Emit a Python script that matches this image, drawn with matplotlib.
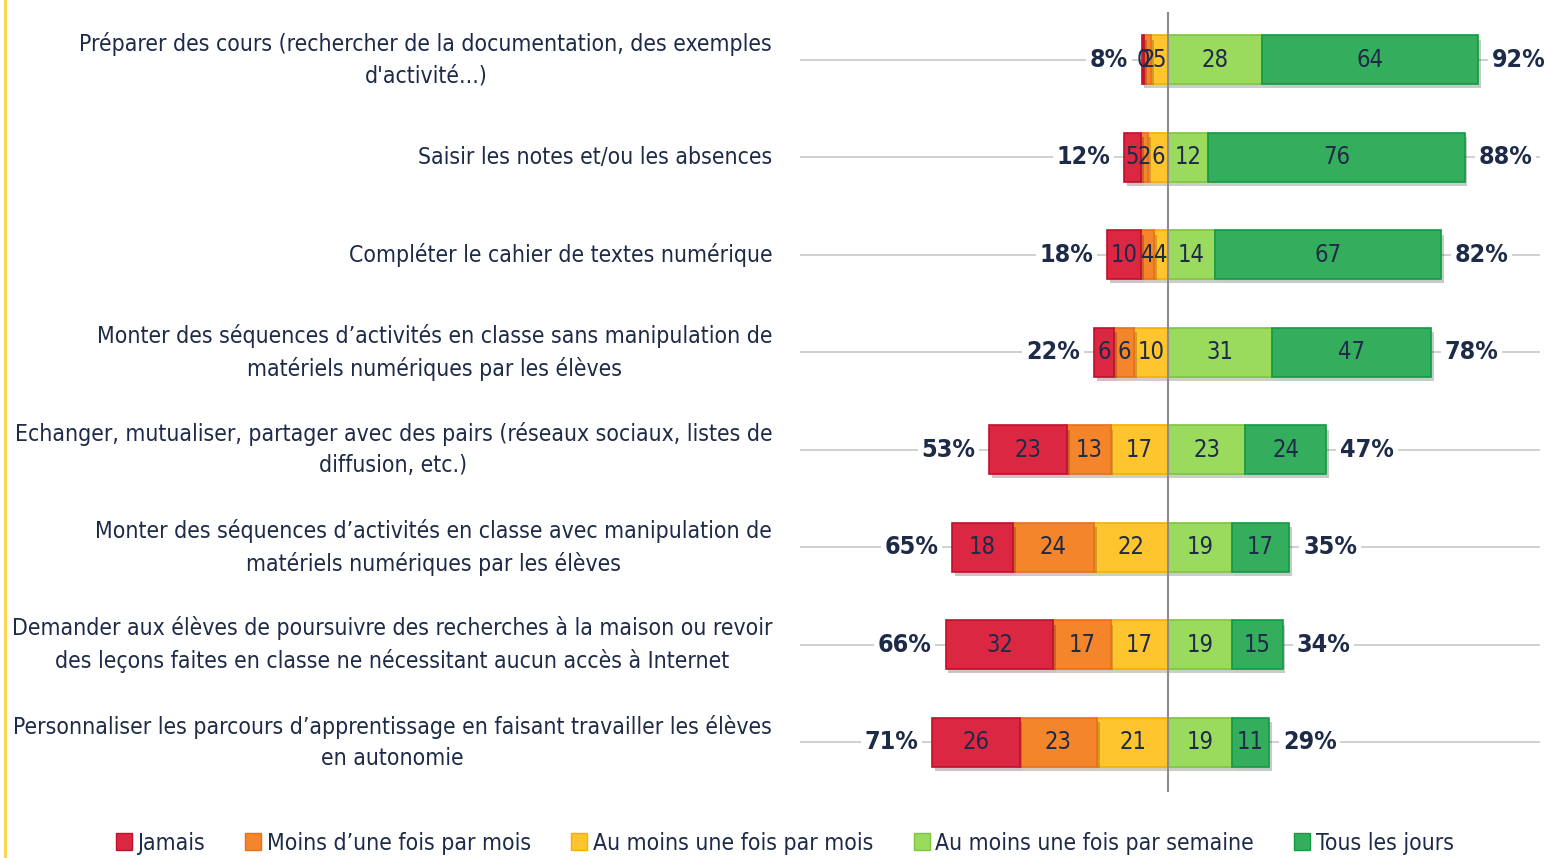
import numpy as np
import matplotlib.pyplot as plt
from matplotlib import font_manager as fm
from matplotlib.patches import Patch
from matplotlib.lines import Line2D
import matplotlib.patheffects as pe

categories = [
    "Préparer des cours (rechercher de la documentation, des exemples\nd'activité...)",
    "Saisir les notes et/ou les absences",
    "Compléter le cahier de textes numérique",
    "Monter des séquences d’activités en classe sans manipulation de\nmatériels numériques par les élèves",
    "Echanger, mutualiser, partager avec des pairs (réseaux sociaux, listes de\ndiffusion, etc.)",
    "Monter des séquences d’activités en classe avec manipulation de\nmatériels numériques par les élèves",
    "Demander aux élèves de poursuivre des recherches à la maison ou revoir\ndes leçons faites en classe ne nécessitant aucun accès à Internet",
    "Personnaliser les parcours d’apprentissage en faisant travailler les élèves\nen autonomie",
]
jamais = [0.8, 5, 10, 6, 23, 18, 32, 26]
moins_mois = [2, 2, 4, 6, 13, 24, 17, 23]
mois = [5, 6, 4, 10, 17, 22, 17, 21]
semaine = [28, 12, 14, 31, 23, 19, 19, 19]
jours = [64, 76, 67, 47, 24, 17, 15, 11]
neg_total = [8, 12, 18, 22, 53, 65, 66, 71]
pos_total = [92, 88, 82, 78, 47, 35, 34, 29]

series_names = ["Jamais", "Moins d’une fois par mois", "Au moins une fois par mois",
                "Au moins une fois par semaine", "Tous les jours"]
colors = ["#DC2743", "#F5852B", "#FFC52E", "#9ADB5E", "#34AE5C"]
edges = ["#C0102C", "#E8701A", "#F5B000", "#7CC63E", "#129A44"]
txt = "#1E2B48"

# pick a narrow font if one is installed, else plain Liberation Sans smaller
fonts = fm.fontManager.ttflist
names = {f.name for f in fonts}
stretch = 'normal'
if 'Liberation Sans Narrow' in names:
    family, fs_lab, fs_pct, fs_val = 'Liberation Sans Narrow', 18.5, 21, 19
elif any(f.name == 'DejaVu Sans' and f.stretch == 'condensed' for f in fonts):
    family, fs_lab, fs_pct, fs_val = 'DejaVu Sans', 16.5, 18, 17
    stretch = 'condensed'
else:
    family, fs_lab, fs_pct, fs_val = 'Liberation Sans', 16, 19, 16
plt.rcParams['font.family'] = [family, 'DejaVu Sans']
plt.rcParams['font.stretch'] = stretch

fig = plt.figure(figsize=(15.48, 8.58), dpi=100)
ax = fig.add_axes([800 / 1548, 1 - 792 / 858, 740 / 1548, 780 / 858])

y = np.arange(len(categories))
h = 0.5
shadow = [pe.SimplePatchShadow(offset=(2, -3), alpha=0.25), pe.Normal()]

neg = [np.array(jamais), np.array(moins_mois), np.array(mois)]
# left side: yellow next to centre, then orange, then red
left_start = np.zeros(len(y))
for k in [2, 1, 0]:
    vals = neg[k]
    bars = ax.barh(y, -vals, left=-left_start, height=h, color=colors[k],
                   edgecolor=edges[k], linewidth=1.2, zorder=3)
    for b in bars:
        b.set_path_effects(shadow)
    for yi, v, s in zip(y, vals, left_start):
        ax.text(-s - v / 2, yi, f"{int(v)}", ha='center', va='center',
                fontsize=fs_val, color=txt, zorder=5)
    left_start = left_start + vals

pos = [np.array(semaine), np.array(jours)]
right_start = np.zeros(len(y))
for k, vals in zip([3, 4], pos):
    bars = ax.barh(y, vals, left=right_start, height=h, color=colors[k],
                   edgecolor=edges[k], linewidth=1.2, zorder=3)
    for b in bars:
        b.set_path_effects(shadow)
    for yi, v, s in zip(y, vals, right_start):
        ax.text(s + v / 2, yi, f"{int(v)}", ha='center', va='center',
                fontsize=fs_val, color=txt, zorder=5)
    right_start = right_start + vals

for yi, l, r, nt, pt in zip(y, left_start, right_start, neg_total, pos_total):
    ax.annotate(f"{nt}%", (-l, yi), xytext=(-10, 0), textcoords='offset points',
                ha='right', va='center', fontsize=fs_pct, fontweight='bold', color=txt,
                bbox=dict(boxstyle='square,pad=0.15', fc='white', ec='none'),
                zorder=4, annotation_clip=False)
    ax.annotate(f"{pt}%", (r, yi), xytext=(10, 0), textcoords='offset points',
                ha='left', va='center', fontsize=fs_pct, fontweight='bold', color=txt,
                bbox=dict(boxstyle='square,pad=0.15', fc='white', ec='none'),
                zorder=4, annotation_clip=False)

ax.axvline(0, color='#8C8C8C', lw=1.5, zorder=6)
ax.set_xlim(-109.2, 110.4)
ax.set_ylim(7.51, -0.49)
ax.set_yticks(y)
ax.set_yticklabels(categories, fontsize=fs_lab, color=txt, linespacing=1.45)
for t in ax.get_yticklabels():
    t.set_multialignment('center')
    t.set_verticalalignment('center')
ax.tick_params(axis='y', length=0, pad=20)
ax.set_xticks([])
ax.yaxis.grid(True, color='#C8C8C8', lw=1.2, zorder=0)
ax.set_axisbelow(True)
for s in ax.spines.values():
    s.set_visible(False)

fig.add_artist(Line2D([5 / 1548, 5 / 1548], [0, 1], color='#FFD23F', lw=2))

handles = [Patch(facecolor=c, edgecolor=e) for c, e in zip(colors, edges)]
fig.legend(handles, series_names, loc='lower center', bbox_to_anchor=(0.507, -0.02),
           ncol=5, frameon=False, fontsize=fs_lab, handlelength=0.7, handleheight=0.7,
           handletextpad=0.25, columnspacing=1.75, labelcolor=txt)

fig.savefig("out.png", dpi=100)
